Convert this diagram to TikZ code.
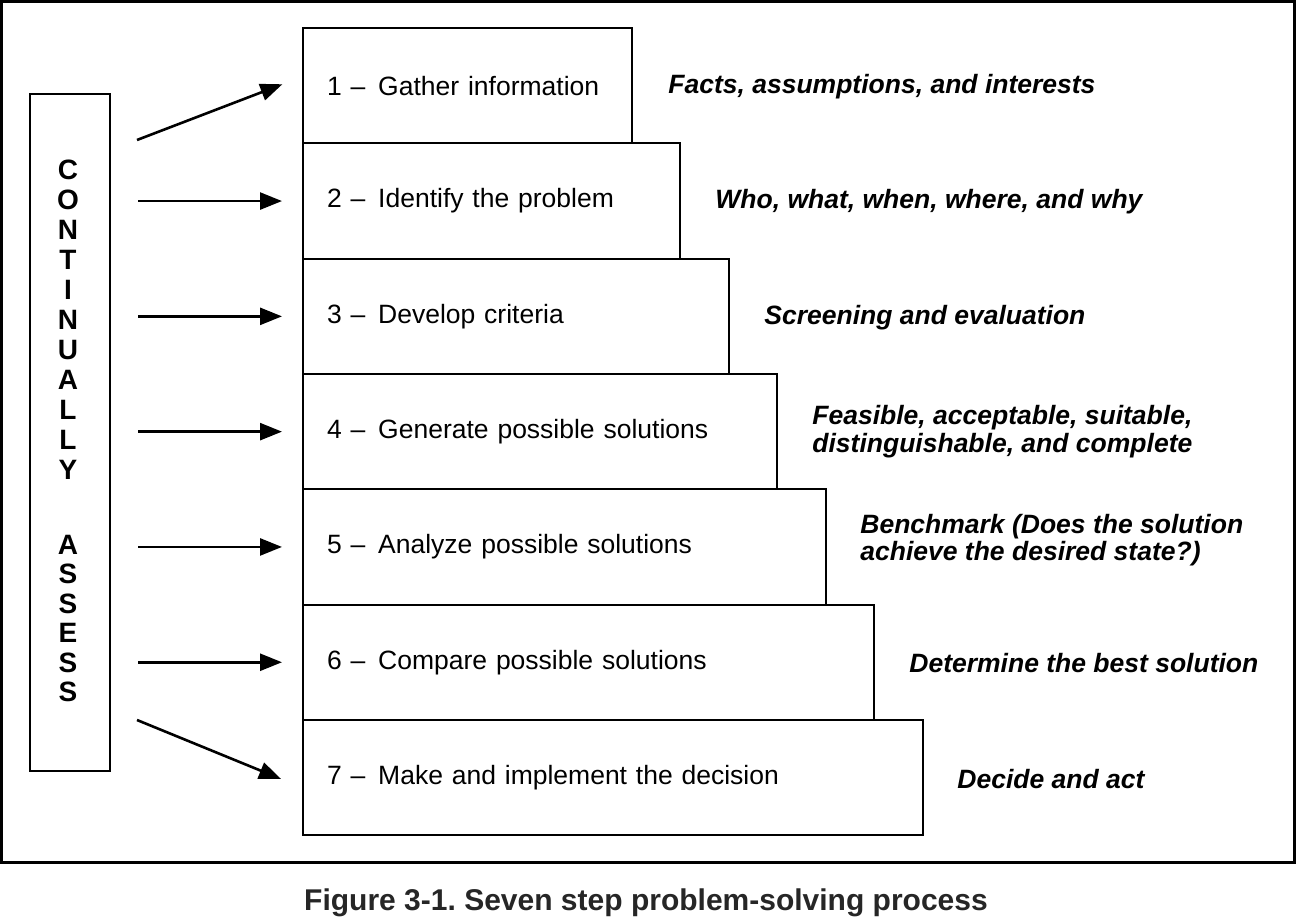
\documentclass[tikz,border=0pt]{standalone}
\usepackage{fontspec}
\setmainfont{Liberation Sans}
\usetikzlibrary{arrows.meta,calc}
\frenchspacing
\begin{document}
\begin{tikzpicture}[x=1pt,y=-1pt,
  stepbox/.style={draw,line width=2.2pt,anchor=north west,minimum height=115.3pt,
    inner xsep=24pt,inner ysep=0pt,align=left,font=\fontsize{26.5}{30}\selectfont},
  note/.style={anchor=west,align=left,inner sep=0pt,
    font=\fontsize{26.5}{27.5}\selectfont\bfseries\itshape},
  arr/.style={line width=2.6pt,-{Triangle[length=22pt,width=17pt]}},
  letters/.style={align=center,inner sep=0pt,font=\fontsize{28}{30}\selectfont\bfseries}]
\useasboundingbox (0,0) rectangle (1296,917);
\draw[line width=3pt] (1.5,1.5) rectangle (1294.5,862);
% left box
\node[draw,line width=2.4pt,minimum width=80pt,minimum height=677pt,anchor=north west,inner sep=0pt] (ca) at (29,93) {};
\node[letters] (cont) at (68,320) {C\\O\\N\\T\\I\\N\\U\\A\\L\\L\\Y};
\node[letters,font=\fontsize{28}{29.4}\selectfont\bfseries] (asse) at (68,618.5) {A\\S\\S\\E\\S\\S};
% steps
\node[stepbox,minimum width=329pt,text width=281pt] (s1) at (302,27) {1 –\hspace{4pt} Gather information};
\node[stepbox,minimum width=377pt,text width=329pt] (s2) at (302,142.3) {2 –\hspace{4pt} Identify the problem};
\node[stepbox,minimum width=426pt,text width=378pt] (s3) at (302,257.6) {3 –\hspace{4pt} Develop criteria};
\node[stepbox,minimum width=474pt,text width=426pt] (s4) at (302,372.9) {4 –\hspace{4pt} Generate possible solutions};
\node[stepbox,minimum width=523pt,text width=475pt] (s5) at (302,488.2) {5 –\hspace{4pt} Analyze possible solutions};
\node[stepbox,minimum width=571pt,text width=523pt] (s6) at (302,603.5) {6 –\hspace{4pt} Compare possible solutions};
\node[stepbox,minimum width=620pt,text width=572pt] (s7) at (302,718.8) {7 –\hspace{4pt} Make and implement the decision};
% notes
\node[note] (n1) at ($(s1.east)+(35,1)$) {Facts, assumptions, and interests};
\node[note] (n2) at ($(s2.east)+(34,1)$) {Who, what, when, where, and why};
\node[note] (n3) at ($(s3.east)+(34,1)$) {Screening and evaluation};
\node[note] (n4) at ($(s4.east)+(34,0)$) {Feasible, acceptable, suitable,\\distinguishable, and complete};
\node[note] (n5) at ($(s5.east)+(33,-7)$) {Benchmark (Does the solution\\achieve the desired state?)};
\node[note] (n6) at ($(s6.east)+(34,1)$) {Determine the best solution};
\node[note] (n7) at ($(s7.east)+(33,1)$) {Decide and act};
% arrows
\coordinate (a1) at (137,140);
\coordinate (a7) at (137,720);
\draw[arr,shorten >=21pt] (a1) -- ($(s1.west)+(0,-9)$);
\draw[arr] ([xshift=27pt]ca.east |- s2.west) -- ([xshift=-20pt]s2.west);
\draw[arr] ([xshift=27pt]ca.east |- s3.west) -- ([xshift=-20pt]s3.west);
\draw[arr] ([xshift=27pt]ca.east |- s4.west) -- ([xshift=-20pt]s4.west);
\draw[arr] ([xshift=27pt]ca.east |- s5.west) -- ([xshift=-20pt]s5.west);
\draw[arr] ([xshift=27pt]ca.east |- s6.west) -- ([xshift=-20pt]s6.west);
\draw[arr,shorten >=22.6pt] (a7) -- ($(s7.west)+(0,10)$);
% caption
\node[anchor=base,inner sep=0pt,font=\fontsize{30}{34}\selectfont\bfseries,text=black!85] (cap) at (646,910) {Figure 3-1. Seven step problem-solving process};
\end{tikzpicture}
\end{document}
